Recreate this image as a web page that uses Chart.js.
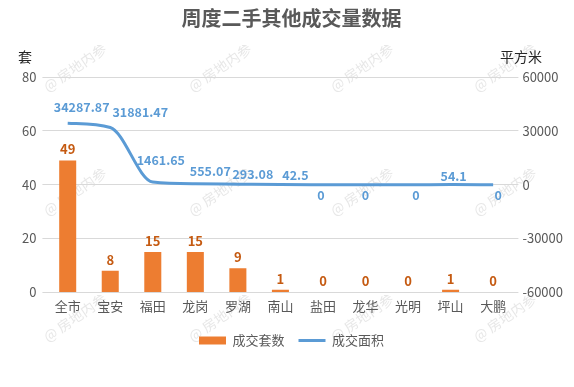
<!DOCTYPE html>
<html>
<head>
<meta charset="utf-8">
<script src="https://cdn.jsdelivr.net/npm/chart.js@4"></script>
<style>
  html, body { margin: 0; padding: 0; background: #fff; }
  #wrap { width: 574px; height: 387px; }
</style>
</head>
<body>
<div id="wrap"><canvas id="c" width="574" height="387"></canvas></div>
<script>
const districts = ['全市', '宝安', '福田', '龙岗', '罗湖', '南山', '盐田', '龙华', '光明', '坪山', '大鹏'];
const unitCounts = [49, 8, 15, 15, 9, 1, 0, 0, 0, 1, 0];
const areaSqm = [34287.87, 31881.47, 1461.65, 555.07, 293.08, 42.5, 0, 0, 0, 54.1, 0];
const countTicks = [0, 20, 40, 60, 80];
const areaTicks = [-60000, -30000, 0, 30000, 60000];

const FONT = "'Noto Sans CJK SC', 'Noto Sans', sans-serif";
const GREY = '#595959';

// data labels, watermark and axis unit captions
const decorations = {
  id: 'decorations',
  beforeDraw(chart) {
    const ctx = chart.ctx;
    ctx.save();
    ctx.font = '14px ' + FONT;
    ctx.fillStyle = 'rgba(160,160,160,0.25)';
    const cols = [45, 190, 332, 475];
    const rows = [88, 212, 338];
    rows.forEach(y => cols.forEach(x => {
      ctx.save();
      ctx.translate(x, y);
      ctx.rotate(-0.6);
      ctx.fillText('@ 房地内参', 0, 0);
      ctx.restore();
    }));
    ctx.restore();
  },
  afterDatasetsDraw(chart, args, opts) {
    const ctx = chart.ctx;
    ctx.save();
    ctx.textAlign = 'center';
    ctx.textBaseline = 'middle';
    ctx.font = 'bold 13px ' + FONT;

    ctx.fillStyle = '#c55a11';
    chart.getDatasetMeta(0).data.forEach((el, i) => {
      ctx.fillText(String(unitCounts[i]), el.x, el.y - 11);
    });

    ctx.font = 'bold 12.5px ' + FONT;
    ctx.fillStyle = '#5b9bd5';
    chart.getDatasetMeta(1).data.forEach((el, i) => {
      const v = areaSqm[i];
      const y = v === 0 ? el.y + 11 : el.y - opts.lineDy[i];
      ctx.fillText(String(v), el.x + opts.lineDx[i], y);
    });

    // unit captions
    ctx.font = '14px ' + FONT;
    ctx.fillStyle = '#262626';
    ctx.fillText('套', 25, 57);
    ctx.fillText('平方米', 521, 57);
    ctx.restore();
  }
};

const tickFont = { family: FONT, size: 13 };

new Chart(document.getElementById('c'), {
  data: {
    labels: districts,
    datasets: [
      {
        type: 'bar',
        label: '成交套数',
        data: unitCounts,
        backgroundColor: '#ed7d31',
        yAxisID: 'y',
        barPercentage: 0.8,
        categoryPercentage: 0.5,
        order: 2
      },
      {
        type: 'line',
        label: '成交面积',
        data: areaSqm,
        borderColor: '#5b9bd5',
        backgroundColor: '#5b9bd5',
        borderWidth: 3,
        pointRadius: 0,
        cubicInterpolationMode: 'monotone',
        yAxisID: 'y1',
        order: 1
      }
    ]
  },
  options: {
    responsive: false,
    animation: false,
    layout: { padding: { top: 0, left: 16, right: 7, bottom: 30 } },
    scales: {
      x: {
        grid: { display: false, drawTicks: false },
        border: { display: false },
        ticks: { color: GREY, font: tickFont, padding: 6 }
      },
      y: {
        position: 'left',
        min: countTicks[0],
        max: countTicks[countTicks.length - 1],
        ticks: { stepSize: 20, color: GREY, font: tickFont, padding: 6, callback: v => String(v) },
        grid: { color: '#d9d9d9', tickLength: 4 },
        border: { display: false }
      },
      y1: {
        position: 'right',
        min: areaTicks[0],
        max: areaTicks[areaTicks.length - 1],
        ticks: { stepSize: 30000, color: GREY, font: tickFont, padding: 4, callback: v => String(v) },
        grid: { drawOnChartArea: false, color: '#d9d9d9', tickLength: 4 },
        border: { display: false }
      }
    },
    plugins: {
      title: {
        display: true,
        text: '周度二手其他成交量数据',
        color: GREY,
        font: { family: FONT, size: 20, weight: 'bold' },
        padding: { top: 6, bottom: 47 }
      },
      legend: {
        position: 'bottom',
        labels: {
          color: GREY,
          font: tickFont,
          usePointStyle: true,
          pointStyleWidth: 27,
          boxHeight: 8,
          boxWidth: 27,
          padding: 14,
          generateLabels(chart) {
            return chart.data.datasets.map((ds, i) => ({
              text: ds.label,
              fillStyle: ds.type === 'bar' ? ds.backgroundColor : ds.borderColor,
              strokeStyle: ds.type === 'bar' ? ds.backgroundColor : ds.borderColor,
              lineWidth: ds.type === 'bar' ? 0 : 3,
              pointStyle: ds.type === 'bar' ? 'rect' : 'line',
              datasetIndex: i,
              hidden: false,
              fontColor: GREY
            }));
          }
        }
      },
      tooltip: { enabled: false },
      decorations: {
        lineDx: [14, 30, 8, 15, 15, 15, -2, 0, 8, 3, 5],
        lineDy: [16, 15, 22, 12, 10, 9, 0, 0, 0, 8, 0]
      }
    }
  },
  plugins: [decorations]
});
</script>
</body>
</html>
